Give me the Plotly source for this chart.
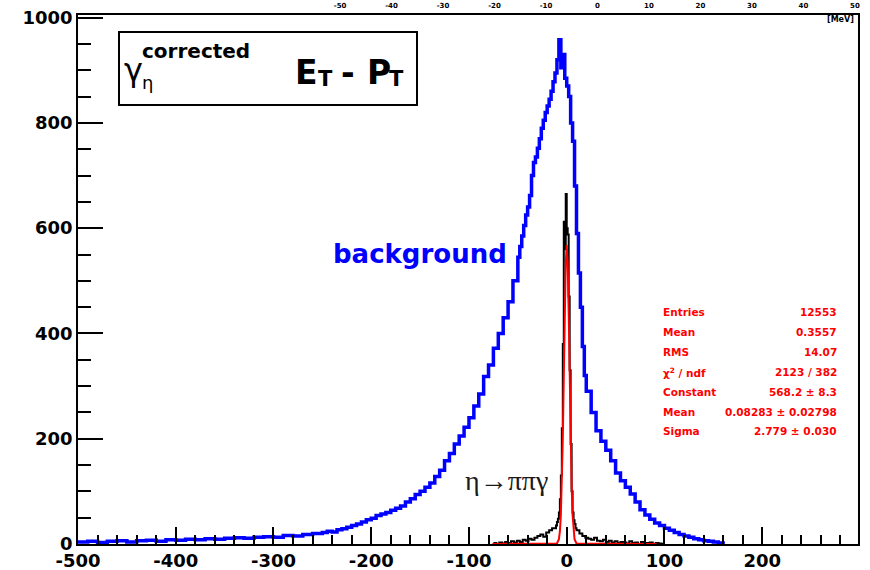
import plotly.graph_objects as go

# ---------------- data ----------------
# Blue "background" histogram: bin left edges (irregular widths) and counts
bg_edges_A = list(range(-500, -250, 10))
bg_vals_A = [4, 5, 3, 5, 6, 4, 6, 7, 5, 8, 7, 9, 8, 10, 9, 11, 12, 11, 13, 14, 13, 16, 15, 18, 20]
bg_edges_B = list(range(-250, -50, 5))
bg_vals_B = [22, 24, 23, 27, 29, 32, 35, 38, 42, 46, 49, 54, 57, 60, 64, 68, 72, 80, 86, 94,
             100, 108, 116, 128, 140, 158, 172, 190, 205, 222, 240, 262, 285, 318, 340, 372, 400, 430, 460, 500]
bg_edges_C = list(range(-50, 20, 2))
bg_vals_C = [545, 565, 585, 605, 625, 640, 662, 700, 725, 735, 752, 770, 790, 805, 820, 832, 845, 860,
             878, 895, 920, 958, 905, 930, 885, 870, 850, 800, 765, 680, 590, 515, 450, 375, 320]
bg_edges_D = list(range(20, 160, 5))
bg_vals_D = [290, 250, 215, 195, 178, 158, 135, 120, 108, 95, 80, 65, 55, 47, 40, 35, 30, 26, 22, 18,
             15, 13, 10, 8, 6, 5, 4, 2]
bg_last_edge = 160

# Black signal histogram (eta -> pi pi gamma)
sig_edges_L = list(range(-75, -12, 3))
sig_vals_L = [2, 0, 3, 1, 4, 2, 5, 3, 6, 4, 8, 6, 10, 8, 12, 15, 18, 14, 22, 26, 30]
sig_edges_C = list(range(-12, 10, 1))
sig_vals_C = [30, 35, 42, 48, 60, 85, 130, 220, 380, 612, 560, 665, 600, 588, 470, 330, 190, 100, 60, 45, 38, 30]
sig_edges_R = list(range(10, 100, 3))
sig_vals_R = [26, 20, 15, 12, 10, 8, 12, 6, 5, 8, 4, 6, 3, 5, 2, 4, 3, 1, 5, 2, 3, 0, 4, 1, 2, 3, 0, 2, 1, 0]
sig_last_edge = 100

# Red Gaussian fit curve
fit_x = [-76, -10, -8, -7, -6, -5, -4, -3, -2, -1, 0, 1, 2, 3, 4, 5, 6, 7, 8, 10, 92]
fit_y = [0, 1, 9, 24, 55, 112, 201, 318, 440, 534, 568, 534, 440, 318, 201, 112, 55, 24, 9, 1, 0]

# Axis ticks
x_tickvals = [-500, -400, -300, -200, -100, 0, 100, 200]
x_ticktext = ["-500", "-400", "-300", "-200", "-100", "0", "100", "200"]
top_tickvals = [-50, -40, -30, -20, -10, 0, 10, 20, 30, 40, 50]
top_ticktext = ["-50", "-40", "-30", "-20", "-10", "0", "10", "20", "30", "40", "50"]

# Stats box
stat_labels = ["Entries", "Mean", "RMS", "χ<sup>2</sup> / ndf", "Constant", "Mean", "Sigma"]
stat_values = ["12553", "0.3557", "14.07", "2123 / 382", "568.2 ± 8.3", "0.08283 ± 0.02798", "2.779 ± 0.030"]


def step_xy(edges, vals, last_edge, close=True):
    xs = list(edges) + [last_edge]
    ys = list(vals) + [vals[-1]]
    if close:
        xs = xs + [last_edge]
        ys = ys + [0]
    return xs, ys


bg_x, bg_y = step_xy(bg_edges_A + bg_edges_B + bg_edges_C + bg_edges_D,
                     bg_vals_A + bg_vals_B + bg_vals_C + bg_vals_D, bg_last_edge)
sig_x, sig_y = step_xy(sig_edges_L + sig_edges_C + sig_edges_R,
                       sig_vals_L + sig_vals_C + sig_vals_R, sig_last_edge)

fig = go.Figure()
fig.add_trace(go.Scatter(x=bg_x, y=bg_y, mode="lines", line=dict(shape="hv", color="#0000ff", width=3.5),
                         showlegend=False, hoverinfo="skip"))
fig.add_trace(go.Scatter(x=sig_x, y=sig_y, mode="lines", line=dict(shape="hv", color="black", width=2),
                         showlegend=False, hoverinfo="skip"))
fig.add_trace(go.Scatter(x=fit_x, y=fit_y, mode="lines", line=dict(color="#ff0000", width=2),
                         showlegend=False, hoverinfo="skip"))
# invisible trace to anchor the top axis
fig.add_trace(go.Scatter(x=[0], y=[0], xaxis="x2", mode="markers", marker=dict(opacity=0),
                         showlegend=False, hoverinfo="skip"))

L, R, T, B = 78, 858, 15, 544
W, H = 870, 570


def px(xp):
    return (xp - L) / (R - L)


def py(yp):
    return (B - yp) / (B - T)


tickfont = dict(family="DejaVu Sans", size=18, color="black", weight="bold")

fig.update_layout(
    width=W, height=H,
    margin=dict(l=L, r=W - R, t=T, b=H - B, autoexpand=False),
    paper_bgcolor="white", plot_bgcolor="white",
    xaxis=dict(range=[-500, 298], tickmode="array", tickvals=x_tickvals, ticktext=x_ticktext,
               ticks="inside", ticklen=17, tickwidth=1.5, tickcolor="black", automargin=False,
               minor=dict(tickmode="linear", tick0=-500, dtick=20, ticks="inside", ticklen=9,
                          tickwidth=1.5, tickcolor="black"),
               showgrid=False, zeroline=False, showline=True, linecolor="black", linewidth=1.5,
               mirror=True, tickfont=tickfont),
    yaxis=dict(range=[0, 1005], tickmode="linear", tick0=0, dtick=200, automargin=False,
               ticks="inside", ticklen=25, tickwidth=1.5, tickcolor="black",
               minor=dict(tickmode="linear", tick0=0, dtick=50, ticks="inside", ticklen=13,
                          tickwidth=1.5, tickcolor="black"),
               showgrid=False, zeroline=False, showline=True, linecolor="black", linewidth=1.5,
               mirror=True, tickfont=tickfont),
    xaxis2=dict(overlaying="x", side="top", range=[-100.9, 50.6], tickmode="array", automargin=False,
                tickvals=top_tickvals, ticktext=top_ticktext, ticks="", showgrid=False,
                zeroline=False, showline=False, ticklabelstandoff=5,
                tickfont=dict(family="DejaVu Sans", size=7, color="black", weight="bold")),
)

# Title box
fig.add_shape(type="rect", xref="paper", yref="paper", x0=px(119), x1=px(417), y0=py(105), y1=py(32),
              line=dict(color="black", width=2), fillcolor="white", layer="above")

annots = []


def ann(text, x, y, size, xanchor="left", color="black", bold=False, family="DejaVu Sans"):
    annots.append(dict(text=text, x=px(x), y=py(y), xref="paper", yref="paper", xanchor=xanchor,
                       yanchor="middle", showarrow=False,
                       font=dict(family=family, size=size, color=color, weight="bold" if bold else "normal")))


ann("γ", 122, 70, 32, family="DejaVu Sans")
ann("corrected", 140, 51, 20, bold=True)
ann("η", 140, 82, 18)
ann("E", 293, 72, 33, bold=True)
ann("T", 316, 79, 21, bold=True)
ann("-", 348, 72, 33, xanchor="center", bold=True)
ann("P", 365, 72, 33, bold=True)
ann("T", 387, 79, 21, bold=True)
ann("background", 420, 254, 26, xanchor="center", color="#0000ff", bold=True)
ann("η→ππγ", 506, 480, 28, xanchor="center", color="#1a1a1a", family="Liberation Serif")
ann("[MeV]", 856, 20, 8, xanchor="right", bold=True)

row_y = [312, 332, 352, 372, 392, 412, 431]
for lab, val, yy in zip(stat_labels, stat_values, row_y):
    ann(lab, 661, yy, 10.5, color="#ff0000", bold=True)
    ann(val, 839, yy, 10.5, xanchor="right", color="#ff0000", bold=True)

fig.update_layout(annotations=annots)
fig.write_html("out.html")
